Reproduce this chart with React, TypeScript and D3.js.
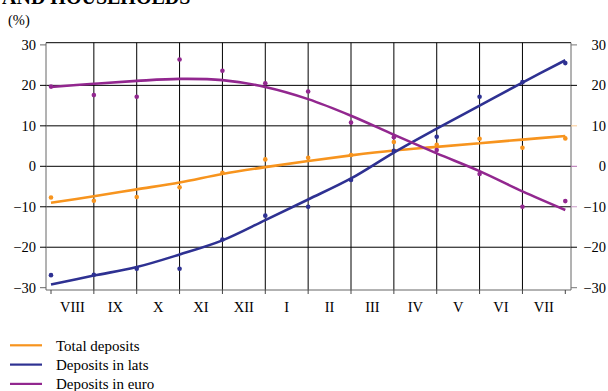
import React from "react";
import * as d3 from "d3";

const months = ["VIII", "IX", "X", "XI", "XII", "I", "II", "III", "IV", "V", "VI", "VII"];
const yTicks = [30, 20, 10, 0, -10, -20, -30];

// Monthly observations (13 points, VII .. VII)
const totalPoints = [-7.7, -8.5, -7.6, -5.2, -1.6, 1.7, 2.1, 2.8, 6.0, 5.3, 6.8, 4.6, 6.9];
const latsPoints = [-26.9, -26.8, -25.3, -25.3, -18.1, -12.2, -10.0, -3.4, 3.8, 7.3, 17.2, 20.8, 25.5];
const euroPoints = [19.7, 17.6, 17.2, 26.4, 23.6, 20.5, 18.5, 10.8, 7.2, 4.0, -1.9, -10.0, -8.6];

// Trend lines
const totalTrend = [-9.0, -7.4, -5.7, -4.0, -1.9, -0.2, 1.3, 2.7, 3.9, 4.8, 5.7, 6.6, 7.5];
const latsTrend = [-29.2, -27.0, -24.9, -21.8, -18.3, -13.3, -8.2, -3.0, 3.4, 9.3, 15.0, 20.7, 26.2];
const euroTrend = [19.6, 20.4, 21.1, 21.6, 21.3, 19.6, 16.6, 12.5, 7.8, 3.2, -1.2, -6.2, -10.8];

const seriesNames = ["Total deposits", "Deposits in lats", "Deposits in euro"];
const seriesColors = ["#F7941E", "#2E3192", "#92278F"];

export default function App() {
  const W = 608, H = 391;
  const x = d3.scaleLinear().domain([0, 12]).range([51, 565.3]);
  const y = d3.scaleLinear().domain([-30, 30]).range([287.7, 44.9]);
  const left = 46, right = 571, top = 42.7, bottom = 290;
  const line = d3.line<number>().x((_, i) => x(i)).y((d) => y(d)).curve(d3.curveCatmullRom.alpha(0.5));
  const trends = [totalTrend, latsTrend, euroTrend];
  const points = [totalPoints, latsPoints, euroPoints];
  const rightTickColors: Record<number, string> = { 30: "#777", 20: "#000", 10: "#FBC98F", 0: "#B26DB0", "-10": "#C99AC8", "-20": "#000", "-30": "#777" } as any;
  const fmt = (v: number) => (v < 0 ? "\u2212" + Math.abs(v) : String(v));
  const gridIdx = d3.range(1, 12);
  const tickIdx = d3.range(0, 13);
  return (
    <svg width={W} height={H} style={{ position: "absolute", left: 0, top: 0, background: "#fff" }} fontFamily="'Liberation Serif', 'Times New Roman', serif">
      <text x={2} y={4} fontSize={20} fontWeight="bold">AND HOUSEHOLDS</text>
      <text x={8} y={25} fontSize={14.5}>(%)</text>
      {/* horizontal gridlines */}
      {yTicks.filter((t) => t !== 30 && t !== -30).map((t) => (
        <line key={"h" + t} x1={left} x2={right} y1={y(t)} y2={y(t)} stroke="#000" strokeWidth={1} />
      ))}
      {/* vertical gridlines */}
      {gridIdx.map((i) => (
        <line key={"v" + i} x1={x(i)} x2={x(i)} y1={top} y2={bottom} stroke="#000" strokeWidth={1} />
      ))}
      {/* frame */}
      <line x1={left} x2={right} y1={top} y2={top} stroke="#000" strokeWidth={1} />
      <line x1={left} x2={right} y1={bottom} y2={bottom} stroke="#666" strokeWidth={1} />
      <line x1={left} x2={left} y1={top} y2={bottom} stroke="#666" strokeWidth={1} />
      <line x1={right} x2={right} y1={top} y2={bottom} stroke="#666" strokeWidth={1} />
      {/* y ticks and labels */}
      {yTicks.map((t) => (
        <g key={"yt" + t}>
          <line x1={left - 6} x2={left} y1={y(t)} y2={y(t)} stroke={t === 30 || t === -30 ? "#666" : "#000"} />
          <line x1={right} x2={right + 6} y1={y(t)} y2={y(t)} stroke={rightTickColors[t]} />
          <text x={36} y={y(t)} dy="0.35em" textAnchor="end" fontSize={14.5}>{fmt(t)}</text>
          <text x={606} y={y(t)} dy="0.35em" textAnchor="end" fontSize={14.5}>{fmt(t)}</text>
        </g>
      ))}
      {/* x ticks */}
      {tickIdx.map((i) => (
        <line key={"xt" + i} x1={x(i)} x2={x(i)} y1={bottom} y2={bottom + 4} stroke="#444" />
      ))}
      {months.map((m, i) => (
        <text key={m} x={x(i + 0.5)} y={311.5} textAnchor="middle" fontSize={14.5}>{m}</text>
      ))}
      {/* trend lines */}
      {trends.map((tr, k) => (
        <path key={"tr" + k} d={line(tr) || ""} fill="none" stroke={seriesColors[k]} strokeWidth={2.6} />
      ))}
      {/* points */}
      {points.map((ps, k) =>
        ps.map((v, i) => (
          <circle key={"p" + k + "-" + i} cx={x(i)} cy={y(v)} r={2.3} fill={seriesColors[k]} />
        ))
      )}
      {/* legend */}
      {seriesNames.map((n, k) => (
        <g key={n}>
          <line x1={10} x2={42} y1={345.3 + k * 19.3} y2={345.3 + k * 19.3} stroke={seriesColors[k]} strokeWidth={2.2} />
          <text x={56} y={345.3 + k * 19.3} dy="0.35em" fontSize={15}>{n}</text>
        </g>
      ))}
    </svg>
  );
}
